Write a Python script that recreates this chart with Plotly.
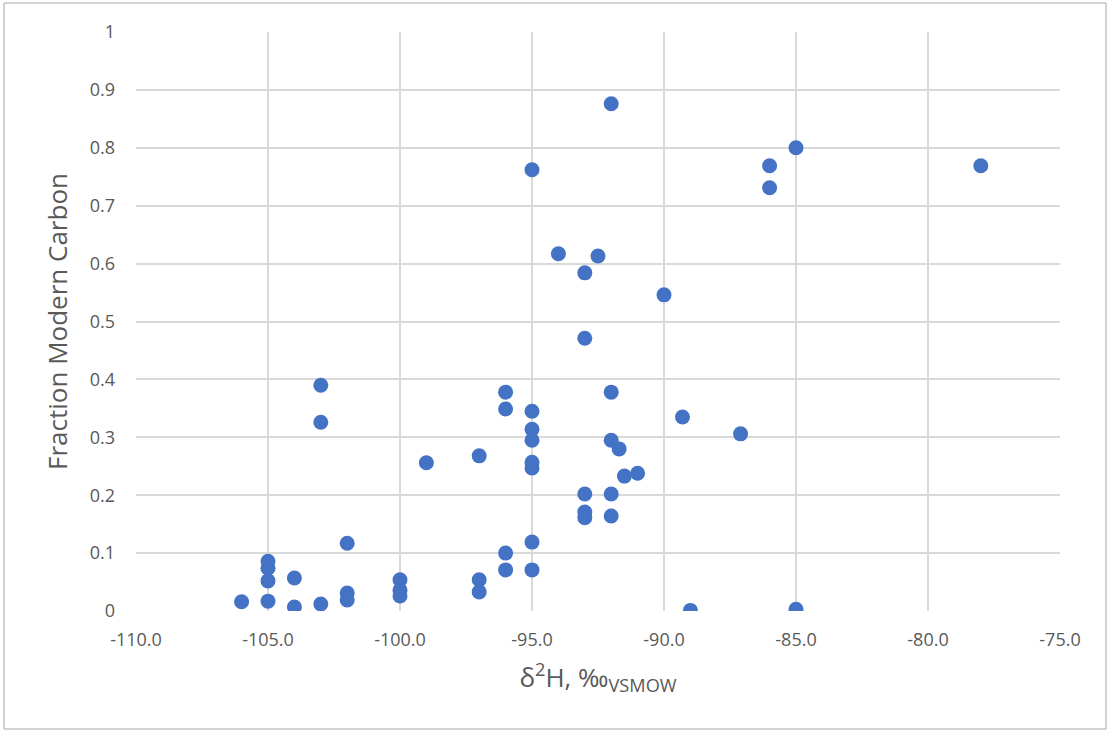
import plotly.graph_objects as go

# Deuterium isotope ratio (δ2H, ‰ VSMOW) for each sample
d2h = [
    -106.0, -105.0, -105.0, -105.0, -105.0, -104.0, -104.0, -103.0, -103.0, -103.0,
    -102.0, -102.0, -102.0, -100.0, -100.0, -100.0, -99.0, -97.0, -97.0, -97.0,
    -96.0, -96.0, -96.0, -96.0, -95.0, -95.0, -95.0, -95.0, -95.0, -95.0,
    -95.0, -95.0, -94.0, -93.0, -93.0, -93.0, -93.0, -93.0, -92.0, -92.0,
    -92.0, -92.0, -92.0, -92.5, -91.7, -91.5, -91.0, -90.0, -89.0, -89.3,
    -87.1, -86.0, -86.0, -85.0, -85.0, -78.0,
]

# Fraction modern carbon for the same samples
fmc = [
    0.016, 0.017, 0.052, 0.074, 0.086, 0.057, 0.007, 0.012, 0.390, 0.326,
    0.117, 0.031, 0.019, 0.054, 0.036, 0.026, 0.256, 0.268, 0.054, 0.033,
    0.378, 0.349, 0.100, 0.071, 0.762, 0.345, 0.314, 0.295, 0.257, 0.247,
    0.119, 0.071, 0.617, 0.584, 0.471, 0.202, 0.171, 0.161, 0.876, 0.378,
    0.295, 0.202, 0.164, 0.613, 0.280, 0.233, 0.238, 0.546, 0.001, 0.335,
    0.306, 0.769, 0.731, 0.800, 0.003, 0.769,
]

x_ticks = [-110, -105, -100, -95, -90, -85, -80, -75]
y_ticks = [0, 0.1, 0.2, 0.3, 0.4, 0.5, 0.6, 0.7, 0.8, 0.9, 1]

font_family = "Open Sans, Liberation Sans, sans-serif"
grid_color = "#d9d9d9"
text_color = "#595959"

fig = go.Figure(
    go.Scatter(
        x=d2h,
        y=fmc,
        mode="markers",
        marker=dict(color="#4472C4", size=15, line=dict(width=0)),
        hoverinfo="x+y",
    )
)

fig.update_layout(
    width=1107,
    height=731,
    margin=dict(l=136, r=47, t=32, b=120),
    paper_bgcolor="white",
    plot_bgcolor="white",
    showlegend=False,
    font=dict(family=font_family, color=text_color, size=18),
    xaxis=dict(
        range=[-110, -75],
        tickvals=x_ticks,
        ticktext=[f"{v:.1f}" for v in x_ticks],
        showgrid=True,
        gridcolor=grid_color,
        gridwidth=2,
        zeroline=False,
        showline=False,
        ticks="",
        ticklabelstandoff=16,
        tickfont=dict(size=18, color=text_color),
        title=dict(
            text="δ<sup>2</sup>H, ‰<sub>VSMOW</sub>",
            font=dict(size=26, color=text_color),
            standoff=18,
        ),
    ),
    yaxis=dict(
        range=[0, 1],
        tickvals=y_ticks,
        ticktext=[f"{v:g}" for v in y_ticks],
        showgrid=True,
        gridcolor=grid_color,
        gridwidth=2,
        zeroline=False,
        showline=False,
        ticks="",
        ticklabelstandoff=20,
        tickfont=dict(size=18, color=text_color),
        title=dict(
            text="Fraction Modern Carbon",
            font=dict(size=26, color=text_color),
            standoff=14,
        ),
    ),
    shapes=[
        # thin frame around the whole chart
        dict(
            type="rect",
            xref="paper",
            yref="paper",
            x0=-132 / 924,
            x1=1.0 + 46 / 924,
            y0=-118 / 579,
            y1=1.0 + 29 / 579,
            line=dict(color="#a6a6a6", width=1),
            fillcolor="rgba(0,0,0,0)",
            layer="below",
        )
    ],
)

fig.write_html("out.html")
